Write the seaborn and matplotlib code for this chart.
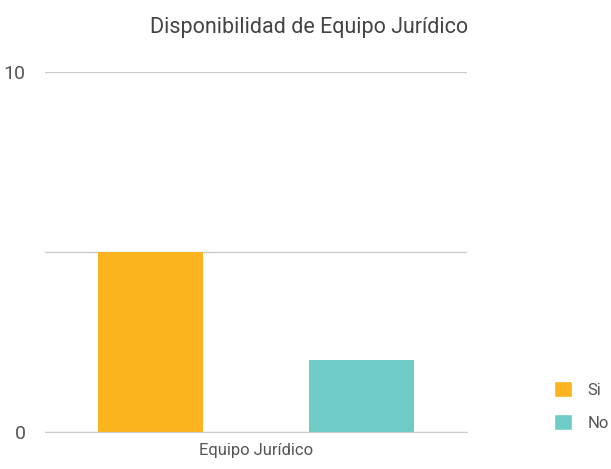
import matplotlib
matplotlib.use("Agg")
import matplotlib.pyplot as plt
import seaborn as sns
import pandas as pd
from matplotlib.patches import Patch

categories = ["Equipo Jurídico"]
series = ["Si", "No"]
values_si = [5]
values_no = [2]
colors = ["#FBB41E", "#6FCBC5"]
y_ticks = [0, 5, 10]
y_tick_labels = ["0", "", "10"]
title = "Disponibilidad de Equipo Jurídico"

rows = []
for i, c in enumerate(categories):
    rows.append({"cat": c, "serie": "Si", "val": values_si[i]})
    rows.append({"cat": c, "serie": "No", "val": values_no[i]})
df = pd.DataFrame(rows)

sns.set_style("white")
fam = ["Roboto", "DejaVu Sans"]
plt.rcParams["font.family"] = fam

fig = plt.figure(figsize=(6.11, 4.69), dpi=100)
ax = fig.add_axes([45/611, 37/469, 422/611, 360/469])
sns.barplot(data=df, x="cat", y="val", hue="serie", hue_order=series,
            palette=colors, width=1.0, gap=0.5, ax=ax, legend=False,
            saturation=1, linewidth=0)
ax.set_xlim(-0.5, 0.5)
ax.set_ylim(0, 10)
ax.set_yticks(y_ticks)
ax.set_yticklabels(y_tick_labels)
ax.yaxis.grid(True, color="#CCCCCC", linewidth=1)
ax.set_axisbelow(True)
for s in ["left", "right", "top"]:
    ax.spines[s].set_visible(False)
ax.spines["bottom"].set_color("#CCCCCC")
ax.tick_params(axis="y", length=0, labelsize=14, labelcolor="#555555", pad=14)
ax.tick_params(axis="x", length=0, labelsize=12, labelcolor="#555555", pad=8)
ax.set_xlabel("")
ax.set_ylabel("")
fig.text(309/611, 1 - 27/469, title, ha="center", va="center",
         fontsize=15.5, color="#444444")
handles = [Patch(facecolor=colors[i], label=series[i]) for i in range(2)]
fig.legend(handles=handles, loc="center left", bbox_to_anchor=(554/611, 1 - 406/469),
           frameon=False, fontsize=12, handlelength=1.1, handleheight=1.1,
           labelcolor="#555555", labelspacing=1.0, handletextpad=0.9,
           borderaxespad=0, borderpad=0)
fig.savefig("out.png", dpi=100)
